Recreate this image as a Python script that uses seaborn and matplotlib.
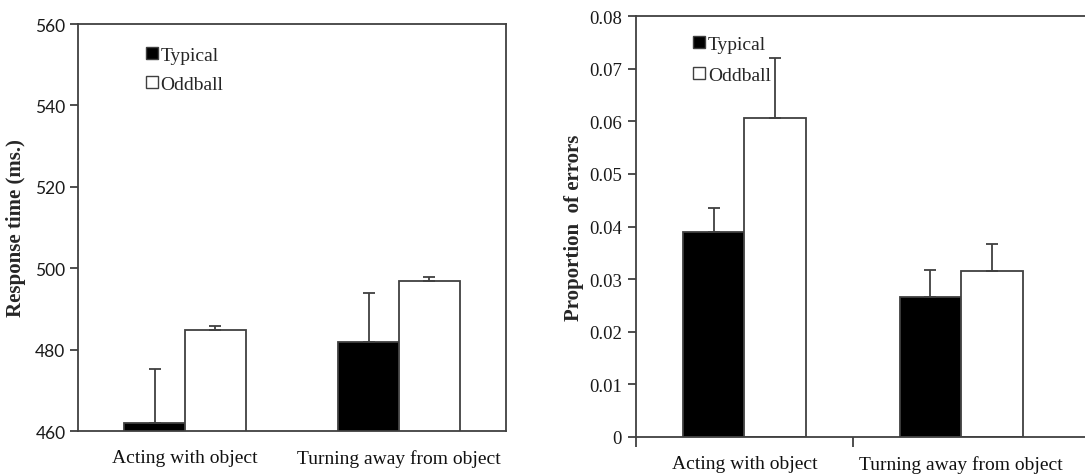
import matplotlib
matplotlib.use("Agg")
import matplotlib.pyplot as plt
from matplotlib.lines import Line2D
import seaborn as sns
import pandas as pd

conditions = ["Acting with object", "Turning away from object"]
types = ["Typical", "Oddball"]

rt_typical = [461.9, 481.9]
rt_oddball = [484.8, 496.9]
rt_err_typical = [13.3, 11.9]
rt_err_oddball = [1.0, 1.0]

err_typical = [0.0390, 0.0266]
err_oddball = [0.0607, 0.0315]
err_err_typical = [0.0046, 0.0051]
err_err_oddball = [0.0113, 0.0051]

rt_ticks = [460, 480, 500, 520, 540, 560]
err_ticks = [0, 0.01, 0.02, 0.03, 0.04, 0.05, 0.06, 0.07, 0.08]
err_ticklabels = ["0", "0.01", "0.02", "0.03", "0.04", "0.05", "0.06", "0.07", "0.08"]

sns.set_theme(style="white")
plt.rcParams['font.family'] = ['Liberation Serif', 'DejaVu Serif']

EDGE = "#404040"


def make_df(typ, odd, etyp, eodd, name):
    rows = []
    for i, c in enumerate(conditions):
        rows.append({"condition": c, "type": "Typical", name: typ[i], "err": etyp[i]})
        rows.append({"condition": c, "type": "Oddball", name: odd[i], "err": eodd[i]})
    return pd.DataFrame(rows)


df_rt = make_df(rt_typical, rt_oddball, rt_err_typical, rt_err_oddball, "value")
df_err = make_df(err_typical, err_oddball, err_err_typical, err_err_oddball, "value")

fig = plt.figure(figsize=(10.85, 4.77), dpi=100)
ax1 = fig.add_axes([78 / 1085, 45 / 477, 428 / 1085, 407 / 477])
ax2 = fig.add_axes([636 / 1085, 39 / 477, 449 / 1085, 421 / 477])


def draw(ax, df, errs_by_type):
    sns.barplot(data=df, x="condition", y="value", hue="type", hue_order=types,
                order=conditions, palette=["black", "white"], edgecolor=EDGE,
                linewidth=1.3, width=0.57, errorbar=None, legend=False, ax=ax)
    for cont, t in zip(ax.containers, types):
        errs = errs_by_type[t]
        for bar, e in zip(cont, errs):
            xc = bar.get_x() + bar.get_width() / 2
            h = bar.get_height()
            ax.errorbar([xc], [h], yerr=[[0], [e]], fmt="none", ecolor=EDGE,
                        elinewidth=1.3, capsize=4, capthick=1.3, zorder=5)
    ax.set_xlabel("")
    for sp in ax.spines.values():
        sp.set_color(EDGE)
        sp.set_linewidth(1.3)
        sp.set_visible(True)


draw(ax1, df_rt, {"Typical": rt_err_typical, "Oddball": rt_err_oddball})
draw(ax2, df_err, {"Typical": err_err_typical, "Oddball": err_err_oddball})

# Left panel
ax1.set_ylim(460, 560)
ax1.set_xlim(-0.5, 1.5)
ax1.set_yticks(rt_ticks)
ax1.set_yticklabels([str(t) for t in rt_ticks], fontfamily="Lato", fontsize=12.5, color="#1a1a1a")
ax1.tick_params(axis="y", direction="out", length=6, width=1.3, color=EDGE, pad=3, left=True)
ax1.tick_params(axis="x", length=0, pad=13)
ax1.set_xticks([0, 1])
ax1.set_xticklabels(conditions, fontsize=14, color="#111111")
ax1.set_ylabel("Response time (ms.)", fontsize=15, fontweight="bold", labelpad=7)

# Right panel
ax2.set_ylim(0, 0.08)
ax2.set_xlim(-0.5, 1.57)
ax2.spines["right"].set_visible(False)
ax2.set_yticks(err_ticks)
ax2.set_yticklabels(err_ticklabels, fontsize=13.5, color="#1a1a1a")
ax2.tick_params(axis="y", direction="out", length=6, width=1.3, color=EDGE, pad=4, left=True)
ax2.set_xticks([0, 1])
ax2.set_xticklabels(conditions, fontsize=14, color="#111111")
ax2.set_xticks([-0.5, 0.5], minor=True)
ax2.tick_params(axis="x", which="major", length=0, pad=13)
ax2.tick_params(axis="x", which="minor", direction="out", length=7, width=1.3, color=EDGE, bottom=True)
ax2.set_ylabel("Proportion  of errors", fontsize=15, fontweight="bold", labelpad=4)

handles = [
    Line2D([], [], marker="s", linestyle="none", markersize=8, markerfacecolor="black",
           markeredgecolor=EDGE, markeredgewidth=1.0, label="Typical"),
    Line2D([], [], marker="s", linestyle="none", markersize=8, markerfacecolor="white",
           markeredgecolor=EDGE, markeredgewidth=1.0, label="Oddball"),
]
ax1.legend(handles=handles, loc="upper left", bbox_to_anchor=(0.136, 0.97), frameon=False,
           fontsize=14, handlelength=0.6, handletextpad=0.15, labelspacing=0.6, borderpad=0)
ax2.legend(handles=handles, loc="upper left", bbox_to_anchor=(0.106, 0.978), frameon=False,
           fontsize=14, handlelength=0.6, handletextpad=0.15, labelspacing=0.7, borderpad=0)

fig.savefig("out.png", dpi=100)
